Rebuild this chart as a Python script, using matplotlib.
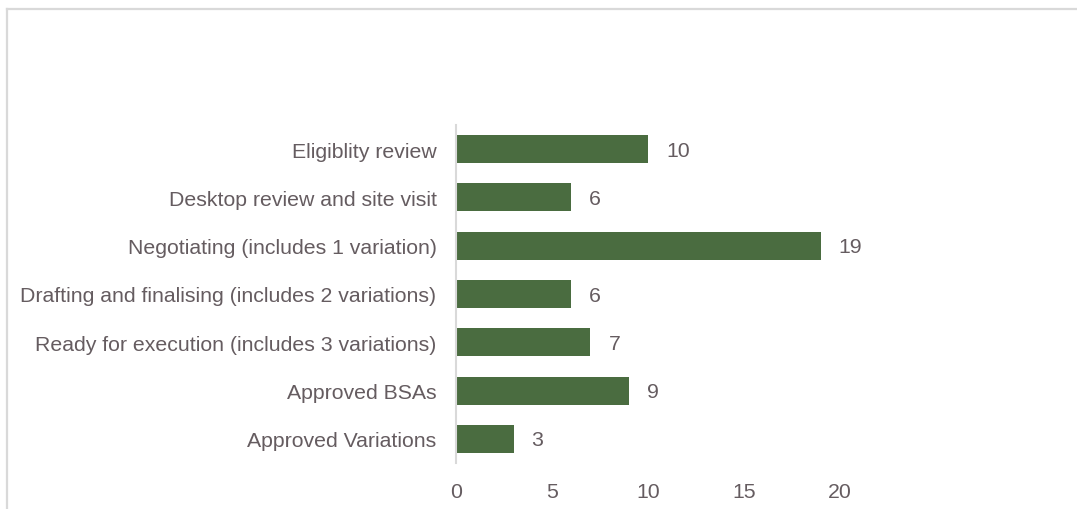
import matplotlib
matplotlib.use("Agg")
import matplotlib.pyplot as plt
from matplotlib.lines import Line2D

categories = [
    "Eligiblity review",
    "Desktop review and site visit",
    "Negotiating (includes 1 variation)",
    "Drafting and finalising (includes 2 variations)",
    "Ready for execution (includes 3 variations)",
    "Approved BSAs",
    "Approved Variations",
]
values = [10, 6, 19, 6, 7, 9, 3]
xticks = [0, 5, 10, 15, 20]

plt.rcParams['font.family'] = ['Liberation Sans', 'DejaVu Sans']
text_color = '#655c60'
bar_color = '#4a6c40'

W, H = 1077, 510
fig = plt.figure(figsize=(W / 100, H / 100), dpi=100)
ax = fig.add_axes([456 / W, 46 / H, 384 / W, 338 / H])

ypos = list(range(len(categories)))
ax.barh(ypos, values, height=0.58, color=bar_color)
ax.set_ylim(len(categories) - 0.5, -0.5)
ax.set_xlim(0, 20)
ax.set_yticks(ypos)
ax.set_yticklabels(categories)
ax.set_xticks(xticks)
ax.set_xticklabels([str(t) for t in xticks])
ax.tick_params(axis='y', length=0, pad=14, labelsize=15.3, labelcolor=text_color)
ax.tick_params(axis='x', length=0, pad=14, labelsize=15.3, labelcolor=text_color)
for s in ['top', 'right', 'bottom']:
    ax.spines[s].set_visible(False)
ax.spines['left'].set_color('#d9d9d9')
ax.spines['left'].set_linewidth(1.5)

for y, v in zip(ypos, values):
    ax.annotate(str(v), (v, y), xytext=(18, -1), textcoords='offset pixels',
                va='center', ha='left', fontsize=15.3, color=text_color)

# outer frame (partially visible)
fy = 1 - 9.5 / H
fx = 7 / W
fig.add_artist(Line2D([fx, 1.0], [fy, fy], transform=fig.transFigure, color='#d9d9d9', lw=1.6))
fig.add_artist(Line2D([fx, fx], [0, fy], transform=fig.transFigure, color='#d9d9d9', lw=1.6))

fig.savefig("out.png", dpi=100, facecolor='white')
